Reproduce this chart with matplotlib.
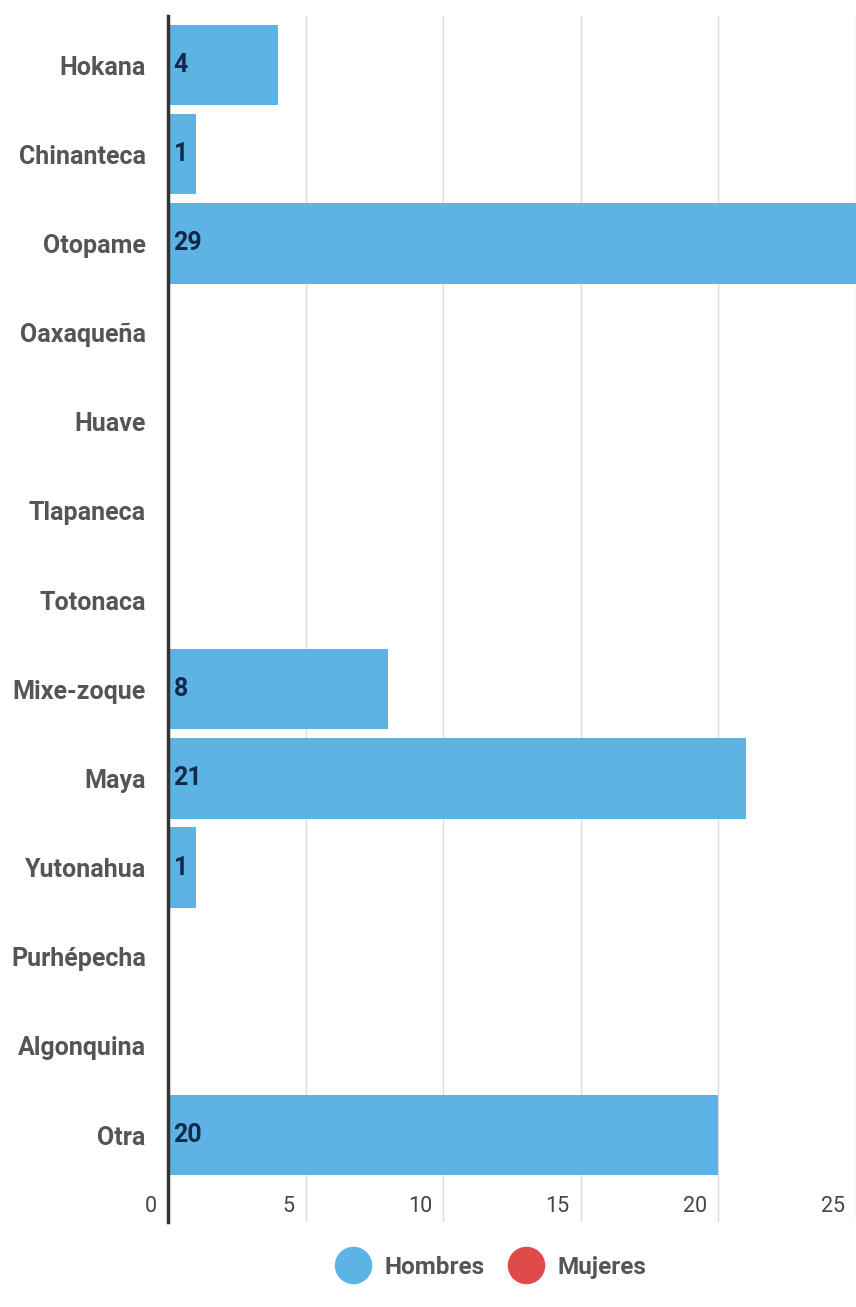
import numpy as np
import matplotlib.pyplot as plt
from matplotlib.lines import Line2D

plt.rcParams['font.family'] = ['Roboto', 'DejaVu Sans']

# data
categorias = ['Hokana', 'Chinanteca', 'Otopame', 'Oaxaqueña', 'Huave', 'Tlapaneca',
              'Totonaca', 'Mixe-zoque', 'Maya', 'Yutonahua', 'Purhépecha',
              'Algonquina', 'Otra']
hombres = [4, 1, 29, 0, 0, 0, 0, 8, 21, 1, 0, 0, 20]
mujeres = [0, 0, 0, 0, 0, 0, 0, 0, 0, 0, 0, 0, 0]
xticks = [0, 5, 10, 15, 20, 25]

azul = '#5db4e4'
rojo = '#df4a4a'

fig = plt.figure(figsize=(8.56, 13.07), dpi=100)
ax = fig.add_axes([168/856, 85/1307, 688/856, 1206/1307])

y = np.arange(len(categorias))
ax.barh(y, hombres, height=0.9, color=azul, zorder=2)
ax.barh(y, mujeres, height=0.9, color=rojo, zorder=2)

# value labels inside the bars
for yi, v in zip(y, hombres):
    if v > 0:
        ax.annotate(str(v), (0, yi), xytext=(4, 0), textcoords='offset points',
                    ha='left', va='center', fontsize=18, fontweight='bold',
                    color='#13294b', zorder=3)

ax.set_xlim(0, 25)
ax.set_ylim(12.975, -0.55)
ax.set_xticks(xticks)
ax.grid(axis='x', color='#dcdcdc', linewidth=1, zorder=0)
ax.tick_params(axis='x', length=0, labelbottom=False)

# x tick labels sit to the left of the gridlines, at the bottom
for t in xticks:
    ax.annotate(str(t), (t, 12.8), xytext=(-8, 0), textcoords='offset points',
                ha='right', va='center', fontsize=15.5, color='#444444',
                annotation_clip=False)

ax.set_yticks(y)
ax.set_yticklabels(categorias, fontsize=18, fontweight='bold', color='#555555')
ax.tick_params(axis='y', length=0, pad=16)

for s in ['top', 'right', 'bottom']:
    ax.spines[s].set_visible(False)
ax.spines['left'].set_color('#333333')
ax.spines['left'].set_linewidth(2.5)
ax.spines['left'].set_zorder(4)

handles = [Line2D([], [], marker='o', linestyle='', markersize=26, color=azul),
           Line2D([], [], marker='o', linestyle='', markersize=26, color=rojo)]
fig.legend(handles, ['Hombres', 'Mujeres'], loc='center', bbox_to_anchor=(0.57, 0.0305),
           ncol=2, frameon=False, handletextpad=0.3, columnspacing=0.7,
           prop={'weight': 'bold', 'size': 17.5}, labelcolor='#555555')

fig.savefig('out.png', dpi=100)
